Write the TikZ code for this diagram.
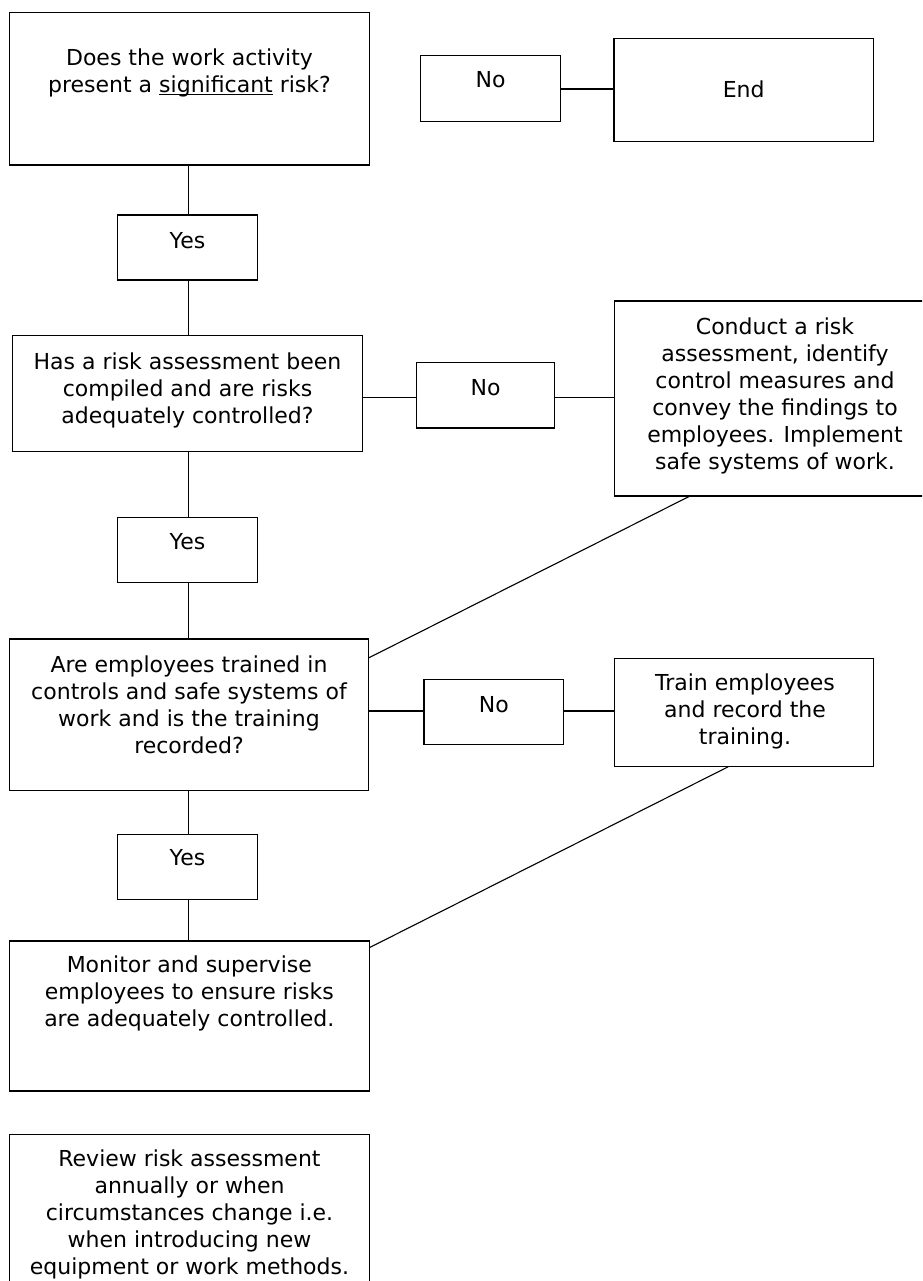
\documentclass[tikz,border=0pt]{standalone}
\usepackage{fontspec}
\setmainfont{DejaVu Sans}
\usetikzlibrary{calc}
\newcommand\myuline[1]{\setbox0\hbox{#1}\rlap{\rule[-2.2pt]{\wd0}{1.1pt}}#1}
\begin{document}
\begin{tikzpicture}[x=1pt,y=-1pt,
  box/.style={draw=black,line width=1.2pt,rectangle,inner sep=0pt,outer sep=0pt},
  txt/.style={font=\fontsize{22}{27}\selectfont,align=center,inner sep=0pt,anchor=north,text=black},
  conn/.style={draw=black,line width=1.1pt}]
\useasboundingbox (0,0) rectangle (922,1281);
\fill[white] (0,0) rectangle (922,1281);
\clip (0,0) rectangle (922,1281);
% boxes
\node[box,minimum width=360pt,minimum height=152.5pt] (q1) at (189.5,88.75) {};
\node[box,minimum width=140pt,minimum height=65.6pt] (no1) at (490.7,88.5) {};
\node[box,minimum width=259.3pt,minimum height=102.6pt] (end) at (743.7,90) {};
\node[box,minimum width=140pt,minimum height=65pt] (yes1) at (187.5,247.5) {};
\node[box,minimum width=350.4pt,minimum height=116pt] (q2) at (187.5,393.7) {};
\node[box,minimum width=138pt,minimum height=65.6pt] (no2) at (485.7,395.2) {};
\node[box,minimum width=321.7pt,minimum height=195pt] (conduct) at (775.2,398.5) {};
\node[box,minimum width=140pt,minimum height=64.6pt] (yes2) at (187.5,550) {};
\node[box,minimum width=358.7pt,minimum height=151.7pt] (q3) at (189,714.9) {};
\node[box,minimum width=139.7pt,minimum height=65pt] (no3) at (493.9,711.8) {};
\node[box,minimum width=259pt,minimum height=108.4pt] (train) at (743.8,712.5) {};
\node[box,minimum width=140pt,minimum height=65pt] (yes3) at (187.5,867) {};
\node[box,minimum width=360pt,minimum height=150pt] (monitor) at (189.3,1016) {};
\node[box,minimum width=360.3pt,minimum height=165.7pt] (review) at (189.45,1217.2) {};
% texts
\node[txt] (q1t) at (189.5,48.5) {Does the work activity\\present a \myuline{significant} risk?};
\node[txt] (no1t) at (490.7,71.5) {No};
\node[txt] (endt) at (743.7,80.8) {End};
\node[txt] (yes1t) at (187.5,232.2) {Yes};
\node[txt] (q2t) at (187.5,352.2) {Has a risk assessment been\\compiled and are risks\\adequately controlled?};
\node[txt] (no2t) at (485.5,379.2) {No};
\node[txt] (conductt) at (775,317.5) {Conduct a risk\\assessment, identify\\control measures and\\convey the findings to\\employees. Implement\\safe systems of work.};
\node[txt] (yes2t) at (187.5,533.2) {Yes};
\node[txt] (q3t) at (189,655.5) {Are employees trained in\\controls and safe systems of\\work and is the training\\recorded?};
\node[txt] (no3t) at (493.9,695.8) {No};
\node[txt] (traint) at (745,673.2) {Train employees\\and record the\\training.};
\node[txt] (yes3t) at (187.5,849.2) {Yes};
\node[txt] (monitort) at (189.3,955.5) {Monitor and supervise\\employees to ensure risks\\are adequately controlled.};
\node[txt] (reviewt) at (189.5,1149.8) {Review risk assessment\\annually or when\\circumstances change i.e.\\when introducing new\\equipment or work methods.};
% helper coordinates
\coordinate (v) at (188.7,0);
\coordinate (h1) at (0,89);
\coordinate (h2) at (0,397.3);
\coordinate (h3) at (0,711);
% vertical connectors
\draw[conn] (q1.south -| v) -- (yes1.north -| v);
\draw[conn] (yes1.south -| v) -- (q2.north -| v);
\draw[conn] (q2.south -| v) -- (yes2.north -| v);
\draw[conn] (yes2.south -| v) -- (q3.north -| v);
\draw[conn] (q3.south -| v) -- (yes3.north -| v);
\draw[conn] (yes3.south -| v) -- (monitor.north -| v);
% horizontal connectors
\draw[conn] (no1.east |- h1) -- (end.west |- h1);
\draw[conn] (q2.east |- h2) -- (no2.west |- h2);
\draw[conn] (no2.east |- h2) -- (conduct.west |- h2);
\draw[conn] (q3.east |- h3) -- (no3.west |- h3);
\draw[conn] (no3.east |- h3) -- (train.west |- h3);
% diagonal connectors
\draw[conn] ([xshift=75.7pt]conduct.south west) -- ([yshift=-19pt]q3.north east);
\draw[conn] ([xshift=114pt]train.south west) -- ([yshift=-6.7pt]monitor.north east);
\end{tikzpicture}
\end{document}
